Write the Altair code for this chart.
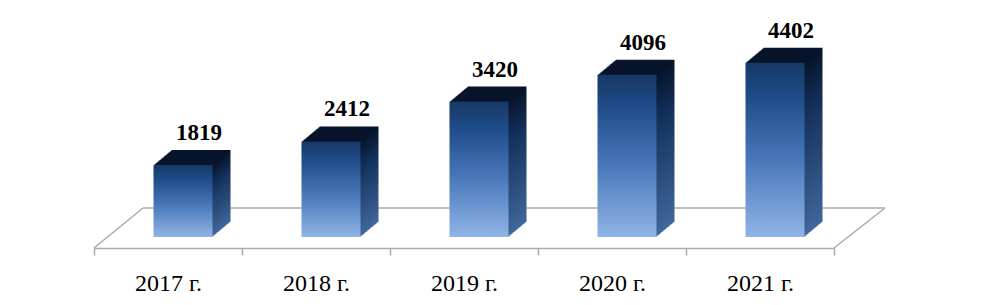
import altair as alt
import pandas as pd

years = ["2017 г.", "2018 г.", "2019 г.", "2020 г.", "2021 г."]
values = [1819, 2412, 3420, 4096, 4402]

df = pd.DataFrame({"year": years, "value": values})

W, H = 740, 198
BAR = 59
FRONT_DX = 15
DEPTH_X, DEPTH_Y = 18, 15
N = 18
GRAY = "#ababab"

front_grad = alt.Gradient(
    gradient="linear", x1=0, x2=0, y1=0, y2=1,
    stops=[
        alt.GradientStop(color="#173866", offset=0),
        alt.GradientStop(color="#1d4a86", offset=0.18),
        alt.GradientStop(color="#4777b9", offset=0.55),
        alt.GradientStop(color="#90b4e6", offset=1),
    ],
)
side_grad = alt.Gradient(
    gradient="linear", x1=0, x2=0, y1=0, y2=1,
    stops=[
        alt.GradientStop(color="#06132a", offset=0),
        alt.GradientStop(color="#13315c", offset=0.3),
        alt.GradientStop(color="#40669a", offset=1),
    ],
)

x_enc = alt.X(
    "year:N", sort=years, title=None,
    scale=alt.Scale(paddingInner=0, paddingOuter=0),
    axis=alt.Axis(
        domainColor=GRAY, domainWidth=1.5, tickColor=GRAY, tickWidth=1.5,
        tickSize=7, tickBand="extent", offset=11, grid=False,
        labelFont="Liberation Serif", labelFontSize=24, labelColor="black",
        labelAngle=0, labelBaseline="alphabetic", labelPadding=35,
    ),
)
y_enc = alt.Y("value:Q", scale=alt.Scale(domain=[0, 5000]), axis=None)

base = alt.Chart(df)
layers = []

# floor (decorative frame)
floor_df = pd.DataFrame({"i": [0]})
floor = alt.Chart(floor_df)
layers.append(floor.mark_rule(color=GRAY, strokeWidth=1.5).encode(
    x=alt.value(0), x2=alt.value(49), y=alt.value(H + 11), y2=alt.value(H - 29)))
layers.append(floor.mark_rule(color=GRAY, strokeWidth=1.5).encode(
    x=alt.value(49), x2=alt.value(W + 51), y=alt.value(H - 29), y2=alt.value(H - 29)))
layers.append(floor.mark_rule(color=GRAY, strokeWidth=1.5).encode(
    x=alt.value(W), x2=alt.value(W + 51), y=alt.value(H + 11), y2=alt.value(H - 29)))

# extrusion (side + top faces)
for k in range(N, 0, -1):
    dx = FRONT_DX + k * DEPTH_X / N
    dy = -k * DEPTH_Y / N
    layers.append(base.mark_bar(
        size=BAR, xOffset=dx, x2Offset=dx, yOffset=dy, y2Offset=dy, color=side_grad,
    ).encode(x=x_enc, y=y_enc, y2=alt.datum(0)))

# front face
layers.append(base.mark_bar(size=BAR, xOffset=FRONT_DX, x2Offset=FRONT_DX, color=front_grad).encode(
    x=x_enc, y=y_enc, y2=alt.datum(0)))

# value labels
layers.append(base.mark_text(
    font="Liberation Serif", fontSize=23, fontWeight="bold", color="black",
    dx=31, dy=-25, baseline="alphabetic", align="center",
).encode(x=x_enc, y=y_enc, text="value:Q"))

chart = alt.layer(*layers).properties(
    width=W, height=H,
    autosize=alt.AutoSizeParams(type="none"),
    padding={"left": 86, "top": 31, "right": 139, "bottom": 60},
    background="white",
).configure_view(stroke=None)

chart.save("out.html", embed_options={"renderer": "svg", "actions": False})
